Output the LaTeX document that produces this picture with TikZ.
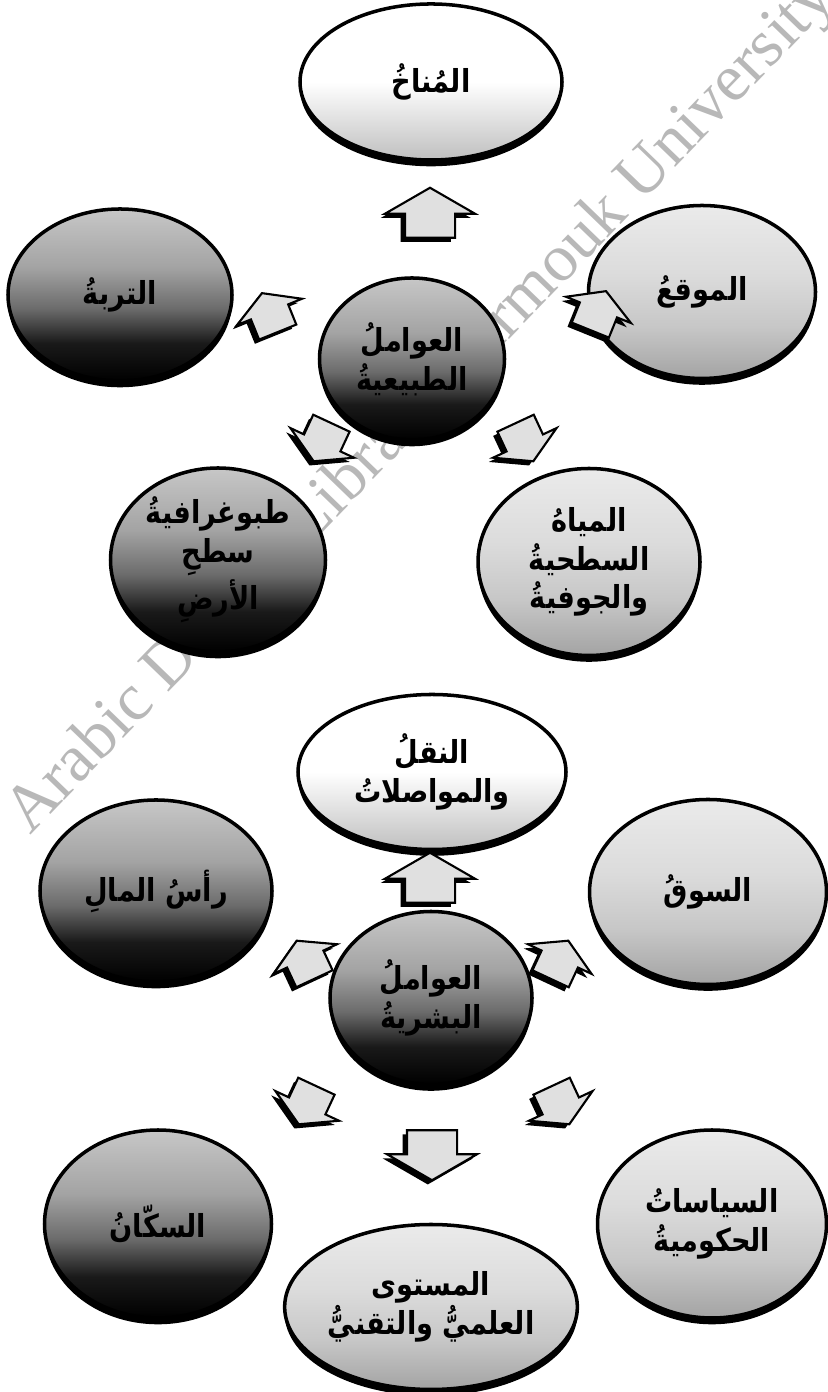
\documentclass[tikz,border=0pt]{standalone}
\usepackage{fontspec}
\setmainfont{Liberation Serif}
\newfontfamily\arabicfont[Script=Arabic, FakeStretch=0.86]{DejaVu Sans}
\TeXXeTstate=1
\usetikzlibrary{shapes.geometric,shapes.arrows,shadows}

\newcommand{\artext}[1]{\beginR #1\endR}

\pgfdeclareverticalshading{balldark}{100bp}{color(0bp)=(black); color(25bp)=(black); color(36bp)=(black!90); color(46bp)=(black!58); color(58bp)=(black!36); color(75bp)=(black!22); color(100bp)=(black!22)}
\pgfdeclareverticalshading{balllight}{100bp}{color(0bp)=(black!36); color(25bp)=(black!36); color(40bp)=(black!22); color(55bp)=(black!14); color(75bp)=(black!8); color(100bp)=(black!8)}
\pgfdeclareverticalshading{ballpale}{100bp}{color(0bp)=(black!25); color(25bp)=(black!25); color(38bp)=(black!12); color(50bp)=(white); color(100bp)=(white)}

\tikzset{
  ball/.style={ellipse, draw, line width=1pt, inner sep=0pt, align=center,
    font=\arabicfont\bfseries\fontsize{9}{11}\selectfont,
    drop shadow={shadow xshift=0pt, shadow yshift=-1.8pt, opacity=1, fill=black}},
  darkball/.style={ball, shading=balldark},
  lightball/.style={ball, shading=balllight},
  paleball/.style={ball, shading=ballpale},
  blockarrow/.style={single arrow, draw, line width=0.6pt, fill=black!12,
    minimum height=0.5cm, inner xsep=0pt, inner ysep=0.24cm,
    single arrow head extend=0.2cm, single arrow tip angle=120,
    drop shadow={shadow xshift=-1.2pt, shadow yshift=-1.2pt, opacity=1, fill=black}},
  smallarrow/.style={blockarrow, minimum height=0.42cm, inner ysep=0.19cm,
    single arrow head extend=0.15cm},
  watermark/.style={rotate=46, text=black!28, font=\fontsize{19}{19}\selectfont}
}

\begin{document}
\begin{tikzpicture}
  \useasboundingbox (0,0) rectangle (8.27,13.92);

  \node[watermark] (wm) at (4.22,9.85) {Arabic Digital Library Yarmouk University};

  % natural factors
  \node[darkball, minimum width=1.85cm, minimum height=1.62cm] (tabi) at (4.12,10.33)
    {\artext{العواملُ}\\\artext{الطبيعيةُ}};
  \node[paleball, minimum width=2.62cm, minimum height=1.56cm] (manakh) at (4.31,13.10)
    {\artext{المُناخُ}};
  \node[darkball, minimum width=2.24cm, minimum height=1.72cm] (turba) at (1.20,10.97)
    {\artext{التربةُ}};
  \node[lightball, minimum width=2.27cm, minimum height=1.73cm] (mawqi) at (7.02,11.00)
    {\artext{الموقعُ}};
  \node[darkball, minimum width=2.15cm, minimum height=1.84cm] (topo) at (2.18,8.32)
    {\artext{طبوغرافيةُ}\\\artext{سطحِ}\\\artext{الأرضِ}};
  \node[lightball, minimum width=2.22cm, minimum height=1.87cm] (miyah) at (5.89,8.30)
    {\artext{المياهُ}\\\artext{السطحيةُ}\\\artext{والجوفيةُ}};

  \node[blockarrow, rotate=90] (t1) at (4.30,11.72) {};
  \node[smallarrow, rotate=112] (t2) at (2.72,10.74) {};
  \node[smallarrow, rotate=68] (t3) at (5.96,10.76) {};
  \node[smallarrow, rotate=245] (t4) at (3.25,9.55) {};
  \node[smallarrow, rotate=295] (t5) at (5.22,9.55) {};

  % human factors
  \node[darkball, minimum width=2.02cm, minimum height=1.73cm] (bashari) at (4.31,3.94)
    {\artext{العواملُ}\\\artext{البشريةُ}};
  \node[paleball, minimum width=2.68cm, minimum height=1.55cm] (naql) at (4.32,6.20)
    {\artext{النقلُ}\\\artext{والمواصلاتُ}};
  \node[darkball, minimum width=2.32cm, minimum height=1.82cm] (rasmal) at (1.56,5.01)
    {\artext{رأسُ المالِ}};
  \node[lightball, minimum width=2.37cm, minimum height=1.85cm] (souq) at (7.08,5.00)
    {\artext{السوقُ}};
  \node[darkball, minimum width=2.27cm, minimum height=1.88cm] (sukkan) at (1.58,1.68)
    {\artext{السكّانُ}};
  \node[lightball, minimum width=2.29cm, minimum height=1.88cm] (siyasat) at (7.12,1.68)
    {\artext{السياساتُ}\\\artext{الحكوميةُ}};
  \node[lightball, minimum width=2.67cm, minimum height=1.65cm] (mustawa) at (4.31,0.85)
    {\artext{المستوى}\\\artext{العلميُّ والتقنيُّ}};

  \node[blockarrow, rotate=90] (b1) at (4.30,5.07) {};
  \node[smallarrow, rotate=115] (b2) at (3.08,4.27) {};
  \node[smallarrow, rotate=65] (b3) at (5.57,4.27) {};
  \node[smallarrow, rotate=245] (b4) at (3.10,2.92) {};
  \node[smallarrow, rotate=295] (b5) at (5.58,2.92) {};
  \node[blockarrow, rotate=270] (b6) at (4.32,2.44) {};
\end{tikzpicture}
\end{document}
